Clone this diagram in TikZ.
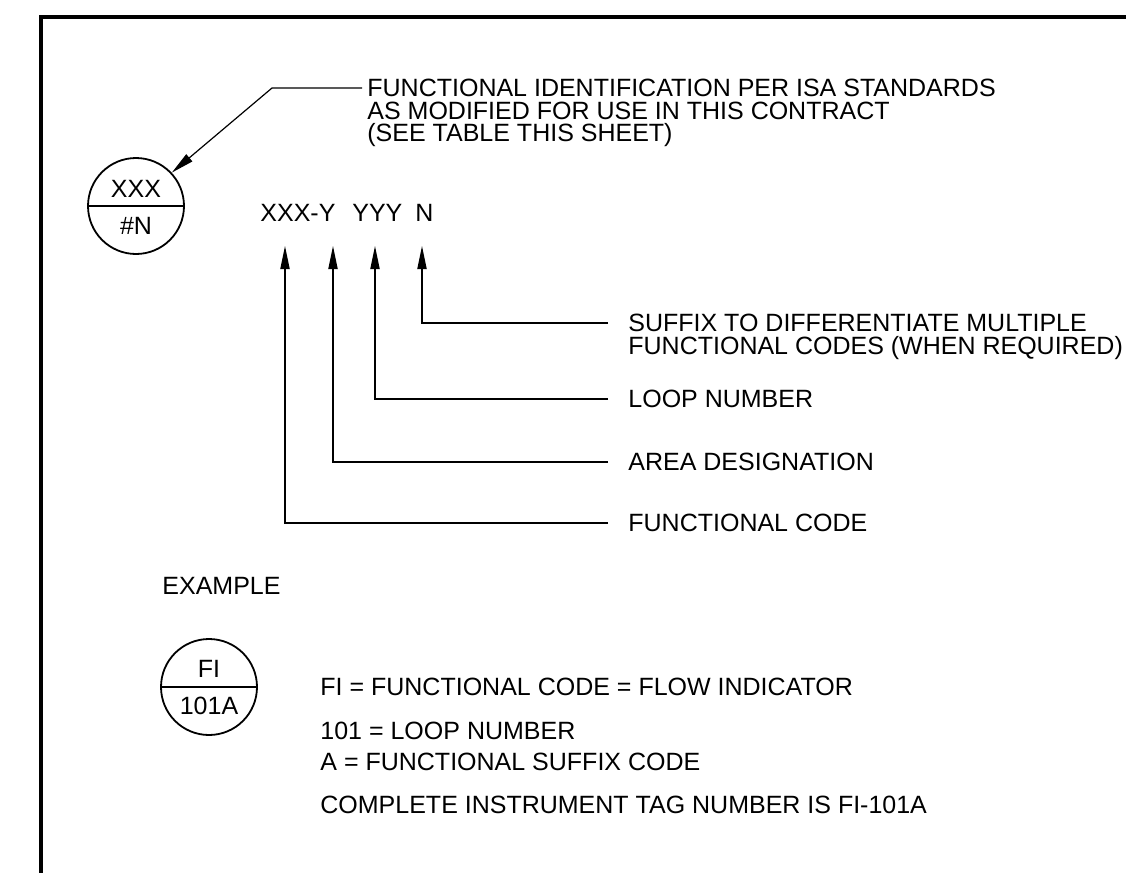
\documentclass[tikz,border=0pt]{standalone}
\usepackage{fontspec}
\setmainfont{Liberation Sans}
\usetikzlibrary{arrows.meta, positioning, calc}
\setlength{\lineskiplimit}{-\maxdimen}
\tikzset{
  tagbubble/.style={circle, draw, line width=0.9pt, minimum size=48pt, inner sep=0pt},
  txt/.style={font=\fontsize{12.5}{11.25}\selectfont, inner sep=0pt, align=left},
  leaderarrow/.style={-{Triangle[length=11.5pt, width=4.6pt]}, line width=0.6pt},
  frameline/.style={line width=2pt}
}

\begin{document}
\begin{tikzpicture}[x=0.5pt, y=-0.5pt]
  \useasboundingbox (0,0) rectangle (1126,873);
  % sheet border
  \draw[frameline] (41,873) -- (41,17) -- (1126,17);

  % generic instrument bubble
  \node[tagbubble] (tag) at (136,206) {};
  \draw[line width=0.9pt] (tag.west) -- (tag.east);
  \node[txt] (tagfn) at (136,189) {XXX};
  \node[txt] (tagnum) at (136,226) {\#N};

  \node[txt, anchor=north west] (ident) at (367,79) {FUNCTIONAL IDENTIFICATION PER ISA STANDARDS\\AS MODIFIED FOR USE IN THIS CONTRACT\\(SEE TABLE THIS SHEET)};
  \coordinate (kink) at (272,88);
  \draw[leaderarrow] ($(ident.north west)+(-5,9)$) -- (kink) -- (tag.43);

  % tag number breakdown
  \node[txt, anchor=west] (tagcode) at (260,213) {XXX-Y\hspace{5pt} YYY\hspace{3pt} N};
  \coordinate (fctip) at (285,246);
  \coordinate (areatip) at (333,246);
  \coordinate (looptip) at (375,246);
  \coordinate (sfxtip) at (422,246);

  \node[txt, anchor=north west] (sfx) at (628,314) {SUFFIX TO DIFFERENTIATE MULTIPLE\\FUNCTIONAL CODES (WHEN REQUIRED)};
  \node[txt, anchor=west] (loop) at (628,399) {LOOP NUMBER};
  \node[txt, anchor=west] (area) at (628,462) {AREA DESIGNATION};
  \node[txt, anchor=west] (fcode) at (628,523) {FUNCTIONAL CODE};

  \draw[leaderarrow] ($(sfx.north west)+(-20,9)$) -| (sfxtip);
  \draw[leaderarrow] ($(loop.west)+(-20,0)$) -| (looptip);
  \draw[leaderarrow] ($(area.west)+(-20,0)$) -| (areatip);
  \draw[leaderarrow] ($(fcode.west)+(-20,0)$) -| (fctip);

  % example
  \node[txt, anchor=west] (example) at (162,586) {EXAMPLE};
  \node[tagbubble] (fi) at (209,687) {};
  \draw[line width=0.9pt] (fi.west) -- (fi.east);
  \node[txt] (fifn) at (209,669) {FI};
  \node[txt] (finum) at (209,706) {101A};

  \node[txt, anchor=west] (exfi) at (320,687) {FI = FUNCTIONAL CODE = FLOW INDICATOR};
  \node[txt, anchor=west] (exloop) at (320,731) {101 = LOOP NUMBER};
  \node[txt, anchor=west] (exsfx) at (320,762) {A = FUNCTIONAL SUFFIX CODE};
  \node[txt, anchor=west] (exfull) at (320,805) {COMPLETE INSTRUMENT TAG NUMBER IS FI-101A};
\end{tikzpicture}
\end{document}
